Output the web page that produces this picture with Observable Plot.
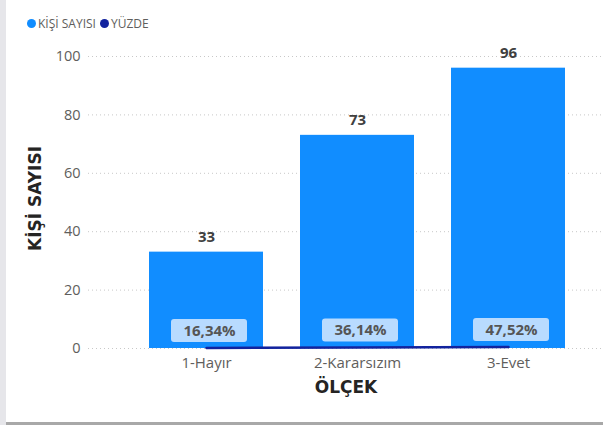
<!DOCTYPE html>
<html>
<head>
<meta charset="utf-8">
<script src="https://cdn.jsdelivr.net/npm/d3@7"></script>
<script src="https://cdn.jsdelivr.net/npm/@observablehq/plot@0.6"></script>
<style>
  html, body { margin: 0; padding: 0; background: #fff; }
  #wrap { position: relative; width: 603px; height: 425px; overflow: hidden; background: #fff; }
  #leftbar { position: absolute; left: 0; top: 0; width: 6px; height: 425px; background: #E6E6EA; }
  #bottombar { position: absolute; left: 6px; bottom: 0; width: 597px; height: 3px; background: #A8A8A8; }
  #legend { height: 36px; box-sizing: border-box; padding: 10px 0 0 27px; font-family: "Open Sans", "Noto Sans", sans-serif; font-size: 12px; color: #605E5C; display: flex; align-items: center; }
  .item { display: flex; align-items: center; margin-right: 4px; }
  .dot { width: 9px; height: 9px; border-radius: 50%; margin-right: 2px; display: inline-block; }
  svg { display: block; }
</style>
</head>
<body>
<div id="wrap">
  <div id="leftbar"></div>
  <div id="legend"></div>
  <div id="chart"></div>
  <div id="bottombar"></div>
</div>
<script>
const categories = ["1-Hayır", "2-Kararsızım", "3-Evet"];
const kisiSayisi = [33, 73, 96];
const yuzde = [16.34, 36.14, 47.52];
const yTicks = [0, 20, 40, 60, 80, 100];
const seriesNames = ["KİŞİ SAYISI", "YÜZDE"];
const seriesColors = ["#118DFF", "#12239E"];

const data = categories.map((c, i) => ({
  cat: c,
  count: kisiSayisi[i],
  pct: yuzde[i],
  pctVal: yuzde[i] / 100,
  pctLabel: yuzde[i].toFixed(2).replace(".", ",") + "%"
}));

const legend = document.getElementById("legend");
seriesNames.forEach((n, i) => {
  const it = document.createElement("span");
  it.className = "item";
  it.innerHTML = `<span class="dot" style="background:${seriesColors[i]}"></span>${n}`;
  legend.appendChild(it);
});

const font = "'Open Sans', 'Noto Sans', sans-serif";
const titleFont = "'DejaVu Sans', 'Liberation Sans', sans-serif";

const chart = Plot.plot({
  width: 603,
  height: 389,
  marginLeft: 88,
  marginRight: 0,
  marginTop: 20,
  marginBottom: 77,
  style: { fontFamily: font, fontSize: "14px", color: "#605E5C", background: "transparent" },
  x: { domain: categories, range: [112, 602], padding: 0.245, label: null },
  y: { domain: [0, 100], ticks: yTicks, label: null },
  marks: [
    Plot.gridY(yTicks, { stroke: "#C8C8C8", strokeOpacity: 1, strokeDasharray: "1,3" }),
    Plot.barY(data, { x: "cat", y: "count", fill: seriesColors[0] }),
    Plot.text(data, { x: "cat", y: "count", text: d => String(d.count), dy: -15, fill: "#404040", fontWeight: "bold", fontSize: 15 }),
    Plot.lineY(data, { x: "cat", y: "pctVal", stroke: seriesColors[1], strokeWidth: 2.5 }),
    Plot.rect(data, { x: "cat", y1: "pctVal", y2: "pctVal", fill: "#C2DFFF", fillOpacity: 0.95, rx: 3, insetLeft: 22, insetRight: 16, insetTop: -11.5, insetBottom: -11.5, dy: -17 }),
    Plot.text(data, { x: "cat", y: "pctVal", text: "pctLabel", dx: 3, dy: -17, fill: "#555555", fontWeight: "bold", fontSize: 15 }),
    Plot.axisY(yTicks, { tickSize: 0, tickPadding: 8, fill: "#605E5C", fontSize: 14.5, label: null }),
    Plot.axisX({ tickSize: 0, tickPadding: 9, fill: "#605E5C", fontSize: 15, label: null }),
    Plot.text(["ÖLÇEK"], { frameAnchor: "bottom", dy: 44, text: d => d, fontWeight: "bold", fontSize: 17, fill: "#252423", fontFamily: titleFont }),
    Plot.text(["KİŞİ SAYISI"], { frameAnchor: "left", textAnchor: "middle", dx: -53, dy: -4, rotate: -90, text: d => d, fontWeight: "bold", fontSize: 17, fill: "#252423", fontFamily: titleFont })
  ]
});
document.getElementById("chart").appendChild(chart);
</script>
</body>
</html>
